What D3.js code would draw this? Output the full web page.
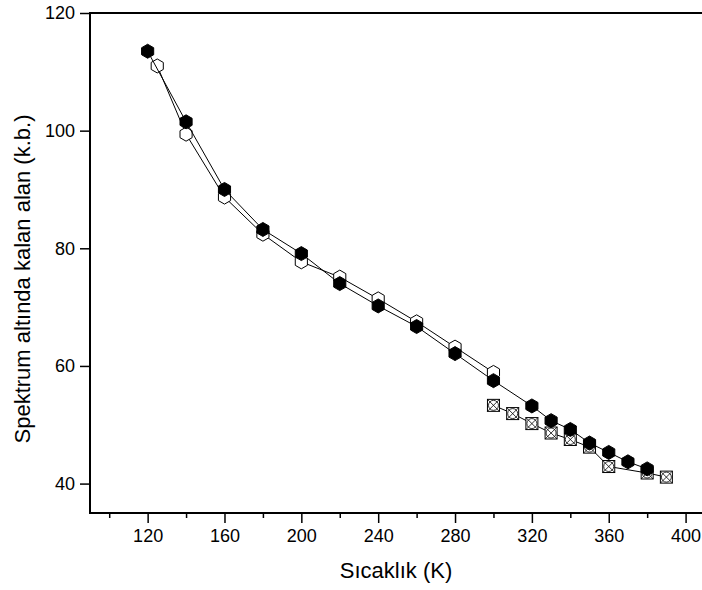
<!DOCTYPE html>
<html>
<head>
<meta charset="utf-8">
<script src="https://cdn.jsdelivr.net/npm/d3@7"></script>
<style>
  body { margin: 0; background: #fff; }
  svg { display: block; font-family: "Liberation Sans", Arial, sans-serif; }
</style>
</head>
<body>
<svg id="chart" width="702" height="590"></svg>
<script>
// data
const filledT = [120, 140, 160, 180, 200, 220, 240, 260, 280, 300, 320, 330, 340, 350, 360, 370, 380];
const filledA = [113.5, 101.5, 90.0, 83.2, 79.1, 74.0, 70.2, 66.7, 62.1, 57.5, 53.2, 50.7, 49.2, 46.9, 45.3, 43.7, 42.5];

const openT = [125, 140, 160, 180, 200, 220, 240, 260, 280, 300];
const openA = [111.0, 99.4, 88.7, 82.4, 77.7, 75.1, 71.4, 67.5, 63.2, 58.9];

const crossT = [300, 310, 320, 330, 340, 350, 360, 380, 390];
const crossA = [53.3, 51.9, 50.2, 48.6, 47.5, 46.2, 42.9, 41.8, 41.1];

const xMajor = [120, 160, 200, 240, 280, 320, 360, 400];
const xMinor = [100, 140, 180, 220, 260, 300, 340, 380];
const yMajor = [40, 60, 80, 100, 120];

const svg = d3.select("#chart");
const plot = { left: 90, top: 13, right: 704.8, bottom: 513 };

const x = d3.scaleLinear().domain([90, 410]).range([plot.left, plot.right]);
const y = d3.scaleLinear().domain([35, 120]).range([plot.bottom, plot.top]);

const zip = (xs, ys) => xs.map((t, i) => ({ t: t, a: ys[i] }));
const filled = zip(filledT, filledA);
const open = zip(openT, openA);
const cross = zip(crossT, crossA);

// axes
svg.append("g").attr("transform", `translate(0,${plot.bottom})`)
    .call(d3.axisBottom(x).tickValues(xMajor).tickSize(10).tickPadding(6).tickSizeOuter(0));
svg.append("g").attr("transform", `translate(0,${plot.bottom})`)
    .call(d3.axisBottom(x).tickValues(xMinor).tickSize(5).tickFormat("").tickSizeOuter(0));

svg.append("g").attr("transform", `translate(${plot.left},0)`)
    .call(d3.axisLeft(y).tickValues(yMajor).tickSize(10).tickPadding(5).tickSizeOuter(0));

svg.selectAll(".domain").remove();
svg.selectAll(".tick line").attr("stroke", "#000").attr("stroke-width", 1.5);
svg.selectAll(".tick text")
    .attr("fill", "#000")
    .style("font-size", "18px")
    .style("font-family", "'Liberation Sans', Arial, sans-serif");

// frame
svg.append("rect")
    .attr("x", plot.left)
    .attr("y", plot.top)
    .attr("width", plot.right - plot.left)
    .attr("height", plot.bottom - plot.top)
    .attr("fill", "none")
    .attr("stroke", "#000")
    .attr("stroke-width", 2);

// axis titles
svg.append("text")
    .attr("x", 396)
    .attr("y", 578)
    .attr("text-anchor", "middle")
    .style("font-size", "22px")
    .text("Sıcaklık (K)");

svg.append("text")
    .attr("transform", "rotate(-90)")
    .attr("x", -279)
    .attr("y", 30)
    .attr("text-anchor", "middle")
    .style("font-size", "22px")
    .text("Spektrum altında kalan alan (k.b.)");

const line = d3.line().x(d => x(d.t)).y(d => y(d.a));

function hexPath(r) {
    const pts = d3.range(6).map(k => {
        const ang = (-90 + 60 * k) * Math.PI / 180;
        return [r * Math.cos(ang), r * Math.sin(ang)];
    });
    return "M" + pts.map(p => p.join(",")).join("L") + "Z";
}

// crossed squares series
svg.append("path")
    .datum(cross)
    .attr("d", line)
    .attr("fill", "none")
    .attr("stroke", "#000")
    .attr("stroke-width", 1);

const cs = svg.selectAll(".cross")
    .data(cross)
    .enter()
    .append("g")
    .attr("class", "cross")
    .attr("transform", d => `translate(${x(d.t)},${y(d.a)})`);
cs.append("rect").attr("x", -6).attr("y", -6).attr("width", 12).attr("height", 12)
    .attr("fill", "#fff").attr("stroke", "#000").attr("stroke-width", 1);
cs.append("circle").attr("r", 5).attr("fill", "none").attr("stroke", "#000").attr("stroke-width", 0.8);
cs.append("path").attr("d", "M-6,-6L6,6M-6,6L6,-6").attr("stroke", "#000").attr("stroke-width", 0.8);

// open hexagons
svg.append("path")
    .datum(open)
    .attr("d", line)
    .attr("fill", "none")
    .attr("stroke", "#000")
    .attr("stroke-width", 1);

svg.selectAll(".open")
    .data(open)
    .enter()
    .append("path")
    .attr("class", "open")
    .attr("d", hexPath(7))
    .attr("transform", d => `translate(${x(d.t)},${y(d.a)})`)
    .attr("fill", "#fff")
    .attr("stroke", "#000")
    .attr("stroke-width", 1);

// filled hexagons
svg.append("path")
    .datum(filled)
    .attr("d", line)
    .attr("fill", "none")
    .attr("stroke", "#000")
    .attr("stroke-width", 1);

svg.selectAll(".filled")
    .data(filled)
    .enter()
    .append("path")
    .attr("class", "filled")
    .attr("d", hexPath(7))
    .attr("transform", d => `translate(${x(d.t)},${y(d.a)})`)
    .attr("fill", "#000")
    .attr("stroke", "#000")
    .attr("stroke-width", 1);
</script>
</body>
</html>
